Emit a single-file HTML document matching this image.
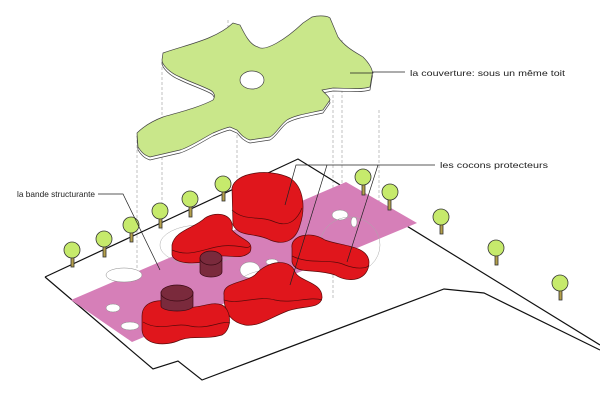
<!DOCTYPE html>
<html><head><meta charset="utf-8"><style>
html,body{margin:0;padding:0;background:#fff;}
svg{display:block;}
text{font-family:"Liberation Sans",sans-serif;font-size:8.5px;fill:#222;}
</style></head><body>
<svg width="600" height="400" viewBox="0 0 600 400" xmlns="http://www.w3.org/2000/svg">
<g stroke="#999" stroke-width="0.6" stroke-dasharray="3,2" fill="none">
<line x1="137" y1="140" x2="137" y2="300"/>
<line x1="162" y1="62" x2="162" y2="230"/>
<line x1="237" y1="135" x2="237" y2="190"/>
<line x1="333" y1="95" x2="333" y2="300"/>
<line x1="342" y1="40" x2="342" y2="230"/>
<line x1="379" y1="110" x2="379" y2="240"/>
<line x1="228" y1="20" x2="228" y2="60"/>
</g>
<polyline points="45,277 298,159 600,345" fill="none" stroke="#111" stroke-width="1.2"/>
<polyline points="45,277 153,369 178,361 202,380 444,289 484,293 600,350" fill="none" stroke="#111" stroke-width="1.2"/>
<polygon points="71,300 346,182 417,223 132,342" fill="#d67fb8"/>
<g fill="#fff" stroke="#888" stroke-width="0.5">
<ellipse cx="124" cy="275" rx="18" ry="7"/>
<ellipse cx="113" cy="308" rx="7" ry="4"/>
<ellipse cx="130" cy="326" rx="9" ry="4"/>
<ellipse cx="340" cy="215" rx="8" ry="5"/>
<ellipse cx="354" cy="222" rx="3" ry="5"/>
<ellipse cx="250" cy="270" rx="10" ry="8"/>
<ellipse cx="272" cy="262" rx="6" ry="3"/>
</g>
<g fill="none" stroke="#aaa" stroke-width="0.5">
<ellipse cx="200" cy="245" rx="40" ry="20"/>
<ellipse cx="350" cy="245" rx="30" ry="28"/>
<ellipse cx="270" cy="290" rx="35" ry="20"/>
</g>
<g stroke="#333" stroke-width="0.8">
<g fill="#b5a04a"><rect x="71" y="255" width="3" height="12"/><rect x="103" y="245" width="3" height="12"/><rect x="130" y="230" width="3" height="12"/><rect x="159" y="216" width="3" height="12"/><rect x="189" y="205" width="3" height="12"/><rect x="222" y="189" width="3" height="12"/><rect x="362" y="183" width="3" height="12"/><rect x="388" y="198" width="3" height="12"/><rect x="440" y="222" width="3" height="12"/><rect x="495" y="253" width="3" height="12"/><rect x="559" y="288" width="3" height="12"/></g>
<g fill="#c6ea6c"><circle cx="72" cy="250" r="8"/><circle cx="104" cy="239" r="8"/><circle cx="131" cy="225" r="8"/><circle cx="160" cy="211" r="8"/><circle cx="190" cy="199" r="8"/><circle cx="223" cy="184" r="8"/><circle cx="363" cy="177" r="8"/><circle cx="390" cy="192" r="8"/><circle cx="441" cy="217" r="8"/><circle cx="496" cy="248" r="8"/><circle cx="560" cy="283" r="8"/></g>
</g>
<g fill="#e0161c" stroke="#5a0a0a" stroke-width="0.7">
<path d="M232,188 C235,172 270,168 290,178 C305,188 305,210 300,225 C296,240 285,246 270,240 C255,232 240,238 233,225 Z"/>
<path d="M232,210 C245,222 260,215 275,222 C290,228 298,218 302,208" fill="none"/>
<path d="M172,245 C175,230 195,228 205,218 C218,210 235,215 232,230 C240,240 255,240 250,252 C240,262 225,252 215,258 C200,265 175,265 172,255 Z"/>
<path d="M172,250 C190,258 205,248 222,246 C238,244 248,250 250,246" fill="none"/>
<path d="M292,248 C290,236 310,230 325,240 C340,246 368,245 369,262 C369,280 350,284 335,275 C315,268 295,275 292,262 Z"/>
<path d="M292,256 C310,265 330,258 345,265 C358,270 368,268 369,265" fill="none"/>
<path d="M224,295 C222,282 245,283 255,275 C268,260 290,258 295,272 C300,282 323,282 322,298 C320,310 300,305 285,312 C270,318 258,327 245,325 C230,322 225,312 224,300 Z"/>
<path d="M224,300 C240,305 258,295 275,300 C292,304 310,296 322,300" fill="none"/>
<path d="M142,316 C142,300 162,297 180,305 C195,312 210,300 222,305 C232,310 232,330 222,335 C205,340 195,335 180,340 C165,347 143,345 142,330 Z"/>
<path d="M143,322 C160,332 175,322 190,326 C208,330 222,320 230,323" fill="none"/>
</g>
<g fill="#7a2a3c" stroke="#3a0a14" stroke-width="0.7">
<path d="M200,258 L200,272 A11,5 0 0 0 222,272 L222,258 Z"/>
<ellipse cx="211" cy="258" rx="11" ry="7"/>
<path d="M161,292 L161,306 A16,5 0 0 0 193,306 L193,292 Z"/>
<ellipse cx="177" cy="293" rx="16" ry="8"/>
</g>
<g stroke="#444" stroke-width="0.7">
<path transform="translate(0,3)" fill="#fff" d="M163,53 C185,45 215,40 233,23 L240,25 C245,35 250,45 258,47 C265,52 285,40 303,23 L312,17 C320,15 328,16 330,18 L338,37 C345,47 355,52 363,57 C368,62 374,70 372,75 L370,87 C360,90 345,88 333,88 L322,90 C325,94 330,97 330,100 L323,110 C310,113 295,115 287,120 C280,125 277,133 270,137 L250,140 C243,138 240,133 237,130 L230,127 C225,128 220,130 213,133 C200,140 190,147 180,150 L150,157 C143,155 140,150 138,147 L137,133 C145,125 155,120 163,117 C180,112 200,107 213,100 C216,96 214,92 210,90 C200,85 190,82 180,77 C170,73 162,65 162,60 Z"/>
<path fill="#c9e78a" fill-rule="evenodd" d="M163,53 C185,45 215,40 233,23 L240,25 C245,35 250,45 258,47 C265,52 285,40 303,23 L312,17 C320,15 328,16 330,18 L338,37 C345,47 355,52 363,57 C368,62 374,70 372,75 L370,87 C360,90 345,88 333,88 L322,90 C325,94 330,97 330,100 L323,110 C310,113 295,115 287,120 C280,125 277,133 270,137 L250,140 C243,138 240,133 237,130 L230,127 C225,128 220,130 213,133 C200,140 190,147 180,150 L150,157 C143,155 140,150 138,147 L137,133 C145,125 155,120 163,117 C180,112 200,107 213,100 C216,96 214,92 210,90 C200,85 190,82 180,77 C170,73 162,65 162,60 Z M240,80 A12,9 0 1 0 264,80 A12,9 0 1 0 240,80 Z"/>
</g>
<g stroke="#222" stroke-width="0.7" fill="none">
<polyline points="350,73 373,73 373,72 405,72"/>
<polyline points="435,165 296,165 285,205"/>
<line x1="327" y1="165" x2="290" y2="285"/>
<line x1="378" y1="165" x2="347" y2="262"/>
<polyline points="98,194 123,194 160,270"/>
</g>
<text x="410" y="76" textLength="155" lengthAdjust="spacingAndGlyphs">la couverture: sous un même toit</text>
<text x="440" y="168" textLength="108" lengthAdjust="spacingAndGlyphs">les cocons protecteurs</text>
<text x="17" y="197" textLength="78" lengthAdjust="spacingAndGlyphs">la bande structurante</text>
</svg>
</body></html>
